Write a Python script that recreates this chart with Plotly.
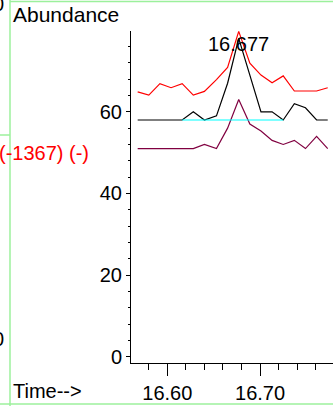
import plotly.graph_objects as go

# retention times (min) of the scans around the peak
rt = [16.568, 16.580, 16.592, 16.604, 16.616, 16.628, 16.640, 16.653, 16.665,
      16.677, 16.689, 16.701, 16.713, 16.725, 16.737, 16.749, 16.761, 16.773]
red_trace = [64.9, 64.1, 66.9, 65.9, 66.9, 64.1, 65.0, 67.9, 70.9,
             79.7, 71.9, 69.0, 67.1, 68.8, 65.1, 65.1, 65.1, 65.9]
black_trace = [58, 58, 58, 58, 58, 60, 58, 59, 67,
               78, 69, 60, 60, 58, 62, 61, 58, 58]
purple_trace = [51, 51, 51, 51, 51, 51, 52, 51, 56,
                63, 57, 55.3, 53, 52, 53, 51, 54, 51]
base_rt = [16.616, 16.725]
base_y = [58, 58]
peak_rt = 16.677
peak_label = "16.677"

W, H = 333, 406
L, R, T, B = 131, 0, 31, 43
FONT = "Liberation Sans, Arial, sans-serif"
GREEN = "#9cf09c"


def px(x):
    return (x - L) / (W - L - R)


def py(y):
    return (H - B - y) / (H - T - B)


fig = go.Figure()
fig.add_trace(go.Scatter(x=rt, y=red_trace, mode="lines", line=dict(color="#ff0000", width=1.2)))
fig.add_trace(go.Scatter(x=rt, y=purple_trace, mode="lines", line=dict(color="#800040", width=1.2)))
fig.add_trace(go.Scatter(x=rt, y=black_trace, mode="lines", line=dict(color="black", width=1.2)))
fig.add_trace(go.Scatter(x=base_rt, y=base_y, mode="lines", line=dict(color="#00ffff", width=1.2)))

ann = [
    dict(text="Abundance", x=px(11), y=py(14.5), xanchor="left", size=21, color="black"),
    dict(text="Time-->", x=px(11), y=py(391), xanchor="left", size=20, color="black"),
    dict(text="(-1367) (-)", x=px(91), y=py(153), xanchor="right", size=20, color="#ff0000"),
    dict(text="0", x=px(6), y=py(4.5), xanchor="right", size=20, color="black"),
    dict(text="0", x=px(6), y=py(339), xanchor="right", size=20, color="black"),
]
for a in ann:
    fig.add_annotation(text=a["text"], xref="paper", yref="paper", x=a["x"], y=a["y"],
                       xanchor=a["xanchor"], yanchor="middle", showarrow=False,
                       font=dict(family=FONT, size=a["size"], color=a["color"]))
fig.add_annotation(text=peak_label, x=peak_rt, y=76.6, xref="x", yref="y", showarrow=False,
                   xanchor="center", yanchor="middle", font=dict(family=FONT, size=20, color="black"))

# frame lines of the neighbouring panels
for x0, y0, x1, y1 in [(10, 0, 10, H), (10, 1.5, W, 1.5), (0, 404, W, 404), (0, 135, 10, 135)]:
    fig.add_shape(type="line", xref="paper", yref="paper", x0=px(x0), y0=py(y0), x1=px(x1), y1=py(y1),
                  line=dict(color=GREEN, width=1.5))

fig.update_layout(
    width=W, height=H, margin=dict(l=L, r=R, t=T, b=B),
    paper_bgcolor="white", plot_bgcolor="white", showlegend=False,
    font=dict(family=FONT, size=20, color="black"),
)
fig.update_xaxes(range=[16.5608, 16.7787], dtick=0.1, tick0=16.6, tickformat=".2f",
                 showline=True, linecolor="black", linewidth=1, showgrid=False, zeroline=False,
                 ticks="outside", ticklen=12, tickcolor="black",
                 minor=dict(dtick=0.02, ticklen=6, ticks="outside", tickcolor="black"),
                 tickfont=dict(size=20))
fig.update_yaxes(range=[-1.54, 79.8], dtick=20, tick0=0,
                 showline=True, linecolor="black", linewidth=1, showgrid=False, zeroline=False,
                 ticks="outside", ticklen=4, tickcolor="black",
                 minor=dict(dtick=4, ticklen=2, ticks="outside", tickcolor="black"),
                 tickfont=dict(size=20))

# the page's default body margin would shift the figure by 8px
fig.write_html("out.html", config={"displayModeBar": False},
               post_script="document.body.style.margin='0px';")
